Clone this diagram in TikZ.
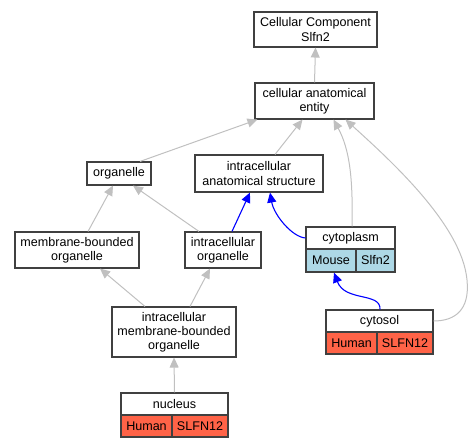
\documentclass[tikz,border=0pt]{standalone}
\usepackage{fontspec}
\setmainfont{Liberation Sans}
\usetikzlibrary{arrows.meta}
\definecolor{edgegray}{HTML}{C0C0C0}
\definecolor{boxline}{HTML}{404040}
\definecolor{mouseblue}{HTML}{ADD8E6}
\definecolor{humanred}{HTML}{FF6347}
\tikzset{
  term/.style={draw=boxline, line width=1.1bp, fill=white, inner sep=0pt, align=center,
    font=\fontsize{12.6}{14.2}\selectfont},
  cell/.style={term, minimum height=22bp},
  isa/.style={draw=edgegray, line width=1bp, -{Triangle[length=10bp,width=9bp]}},
  partof/.style={draw=blue, line width=1.1bp, -{Triangle[length=10bp,width=9bp]}},
}
\begin{document}
\begin{tikzpicture}[x=1bp,y=-1bp]
\useasboundingbox (0,0) rectangle (473,448);
% nodes
\node[term, minimum width=123bp, minimum height=35bp] (cc) at (315.5,29.5) {Cellular Component\\Slfn2};
\node[term, minimum width=119bp, minimum height=36bp] (cae) at (314.5,101) {cellular anatomical\\entity};
\node[term, minimum width=64bp, minimum height=23bp] (org) at (119,173.5) {organelle};
\node[term, minimum width=128bp, minimum height=37bp] (ias) at (259,173.5) {intracellular\\anatomical structure};
\node[term, minimum width=124bp, minimum height=36bp] (mbo) at (77,250) {membrane-bounded\\organelle};
\node[term, minimum width=76bp, minimum height=36bp] (io) at (223,250) {intracellular\\organelle};
\node[term, minimum width=124bp, minimum height=50bp] (imbo) at (174,332) {intracellular\\membrane-bounded\\organelle};
% cytoplasm record
\node[cell, minimum width=89bp] (cyto) at (350.5,238) {cytoplasm};
\node[cell, minimum width=50bp, minimum height=23bp, fill=mouseblue] (cytoA) at (331,260.5) {Mouse};
\node[cell, minimum width=39bp, minimum height=23bp, fill=mouseblue] (cytoB) at (375.5,260.5) {Slfn2};
% cytosol record
\node[cell, minimum width=107bp] (csol) at (379.5,321) {cytosol};
\node[cell, minimum width=51bp, fill=humanred] (csolA) at (351.5,343) {Human};
\node[cell, minimum width=56bp, fill=humanred] (csolB) at (405,343) {SLFN12};
% nucleus record
\node[cell, minimum width=107bp] (nuc) at (174.5,404) {nucleus};
\node[cell, minimum width=51bp, fill=humanred] (nucA) at (146.5,426) {Human};
\node[cell, minimum width=56bp, fill=humanred] (nucB) at (200,426) {SLFN12};
% edges
\draw[isa] (cae.north) -- (cc.south);
\draw[isa] ([xshift=21bp]org.north) -- ([xshift=3bp]cae.south west);
\draw[isa] ([xshift=16bp]ias.north) -- ([xshift=-12bp]cae.south);
\draw[isa] ([xshift=1.5bp]cyto.north) .. controls (353,180) and (350,150) .. ([xshift=19bp]cae.south);
\draw[isa] (csol.east) .. controls (455,321) and (470,310) .. (467,280) .. controls (462,225) and (390,160) .. ([xshift=31bp]cae.south);
\draw[isa] ([xshift=11bp]mbo.north) -- ([xshift=-6bp]org.south);
\draw[isa] ([xshift=-24bp]io.north) -- ([xshift=14bp]org.south);
\draw[partof] ([xshift=9bp]io.north) -- ([xshift=-9bp]ias.south);
\draw[partof] (cyto.west) .. controls (292,237) and (274,215) .. ([xshift=11bp]ias.south);
\draw[isa] ([xshift=-29bp]imbo.north) -- ([xshift=23bp]mbo.south);
\draw[isa] ([xshift=16bp]imbo.north) -- ([xshift=-13bp]io.south);
\draw[isa] (nuc.north) -- (imbo.south);
\draw[partof] ([xshift=0.5bp]csol.north) .. controls (381,292) and (345,302) .. ([xshift=3bp]cytoA.south);
\end{tikzpicture}
\end{document}
